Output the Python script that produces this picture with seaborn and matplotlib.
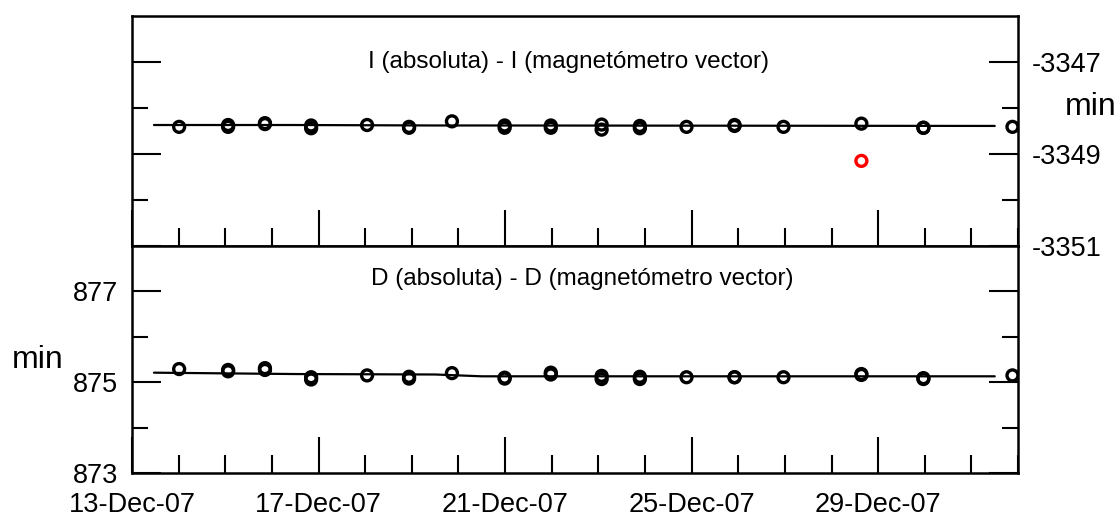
import pandas as pd
import matplotlib
matplotlib.use("Agg")
import matplotlib.pyplot as plt
import matplotlib.dates as mdates
import seaborn as sns

## values

start = pd.Timestamp("2007-12-13")
end = pd.Timestamp("2008-01-01")

# observation times (days after 13-Dec-07); a repeated day = two observations that day
obs_day = [1.01, 2.06, 2.06, 2.85, 2.85, 3.84, 3.84, 5.04, 5.94, 5.94, 6.86,
           7.99, 7.99, 8.98, 8.98, 10.07, 10.07, 10.89, 10.89, 11.89, 12.92,
           12.92, 13.97, 15.64, 15.64, 16.97, 16.97, 18.88]

# I (absoluta) - I (magnetometro vector), minutes
inc_diff = [-3348.41, -3348.37, -3348.41, -3348.33, -3348.35, -3348.38, -3348.44,
            -3348.37, -3348.41, -3348.43, -3348.29, -3348.38, -3348.43, -3348.38,
            -3348.43, -3348.36, -3348.47, -3348.39, -3348.44, -3348.41, -3348.37,
            -3348.39, -3348.41, -3348.34, -3349.15, -3348.43, -3348.43, -3348.41]

# D (absoluta) - D (magnetometro vector), minutes
dec_diff = [875.29, 875.27, 875.24, 875.31, 875.27, 875.11, 875.06, 875.15,
            875.12, 875.08, 875.20, 875.10, 875.08, 875.21, 875.17, 875.14,
            875.07, 875.12, 875.07, 875.11, 875.11, 875.11, 875.11, 875.18,
            875.16, 875.09, 875.07, 875.15]

# the one I value drawn in red
inc_flag = [False] * 24 + [True] + [False] * 3

# baseline curves
line_day = [0.47, 3.5, 6.5, 7.5, 18.5]
inc_line = [-3348.37, -3348.37, -3348.38, -3348.38, -3348.39]
dec_line = [875.21, 875.18, 875.17, 875.13, 875.13]

inc_title = "I (absoluta) - I (magnetómetro vector)"
dec_title = "D (absoluta) - D (magnetómetro vector)"
inc_ticks = [-3351, -3349, -3347]
dec_ticks = [873, 875, 877]


obs = pd.DataFrame({
    "time": start + pd.to_timedelta(obs_day, unit="D"),
    "inc": inc_diff,
    "dec": dec_diff,
    "flag": inc_flag,
})
base = pd.DataFrame({
    "time": start + pd.to_timedelta(line_day, unit="D"),
    "inc": inc_line,
    "dec": dec_line,
})

sns.set_style("ticks")
plt.rcParams["font.family"] = ["Liberation Sans", "DejaVu Sans"]
plt.rcParams["axes.unicode_minus"] = False
for key in ["text.color", "axes.labelcolor", "axes.edgecolor", "xtick.color", "ytick.color"]:
    plt.rcParams[key] = "black"

fig = plt.figure(figsize=(11.19, 5.19), dpi=100)
ax_top = fig.add_axes([0.118, 0.526, 0.7918, 0.4432])
ax_bot = fig.add_axes([0.118, 0.0886, 0.7918, 0.4374], sharex=ax_top)

mk = dict(marker="o", s=62, facecolors="none", linewidth=2.4, legend=False)

# top panel: inclination
sns.lineplot(data=base, x="time", y="inc", ax=ax_top, color="black", linewidth=1.6)
sns.scatterplot(data=obs[~obs["flag"]], x="time", y="inc", ax=ax_top, edgecolor="black", **mk)
sns.scatterplot(data=obs[obs["flag"]], x="time", y="inc", ax=ax_top, edgecolor="red", **mk)

# bottom panel: declination
sns.lineplot(data=base, x="time", y="dec", ax=ax_bot, color="black", linewidth=1.6)
sns.scatterplot(data=obs, x="time", y="dec", ax=ax_bot, edgecolor="black", **mk)

ax_top.set_ylim(-3351, -3346)
ax_bot.set_ylim(873, 878)
ax_top.set_xlim(start, end)

ax_bot.xaxis.set_major_locator(mdates.DayLocator(bymonthday=[13, 17, 21, 25, 29]))
ax_bot.xaxis.set_minor_locator(mdates.DayLocator())
ax_bot.xaxis.set_major_formatter(mdates.DateFormatter("%d-%b-%y"))

ax_top.set_yticks(inc_ticks)
ax_top.set_yticks([-3350, -3348], minor=True)
ax_bot.set_yticks(dec_ticks)
ax_bot.set_yticks([874, 876], minor=True)

for ax in (ax_top, ax_bot):
    for sp in ax.spines.values():
        sp.set_linewidth(1.8)
    ax.tick_params(axis="x", which="major", direction="in", length=26, width=1.5,
                   top=False, bottom=True, labelsize=19.5, pad=14)
    ax.tick_params(axis="x", which="minor", direction="in", length=13, width=1.5,
                   top=False, bottom=True)
    ax.tick_params(axis="y", which="major", direction="in", length=21, width=1.5,
                   left=True, right=True, labelsize=19.5, pad=10)
    ax.tick_params(axis="y", which="minor", direction="in", length=11.5, width=1.5,
                   left=True, right=True)
    ax.set_xlabel("")
    ax.set_ylabel("")

ax_top.tick_params(axis="x", which="both", labelbottom=False)
ax_top.tick_params(axis="y", which="both", labelleft=False, labelright=True)
ax_bot.tick_params(axis="y", which="both", labelleft=True, labelright=False)

# "min" units sit beside the tick labels
ax_top.text(1.0825, 0.603, "min", transform=ax_top.transAxes, ha="center",
            va="center", fontsize=23)
ax_bot.text(-0.107, 0.498, "min", transform=ax_bot.transAxes, ha="center",
            va="center", fontsize=23)

ax_top.text(0.493, 0.80, inc_title, transform=ax_top.transAxes, ha="center",
            va="center", fontsize=17.5)
ax_bot.text(0.508, 0.855, dec_title, transform=ax_bot.transAxes, ha="center",
            va="center", fontsize=17.5)

fig.savefig("out.png", dpi=100)
